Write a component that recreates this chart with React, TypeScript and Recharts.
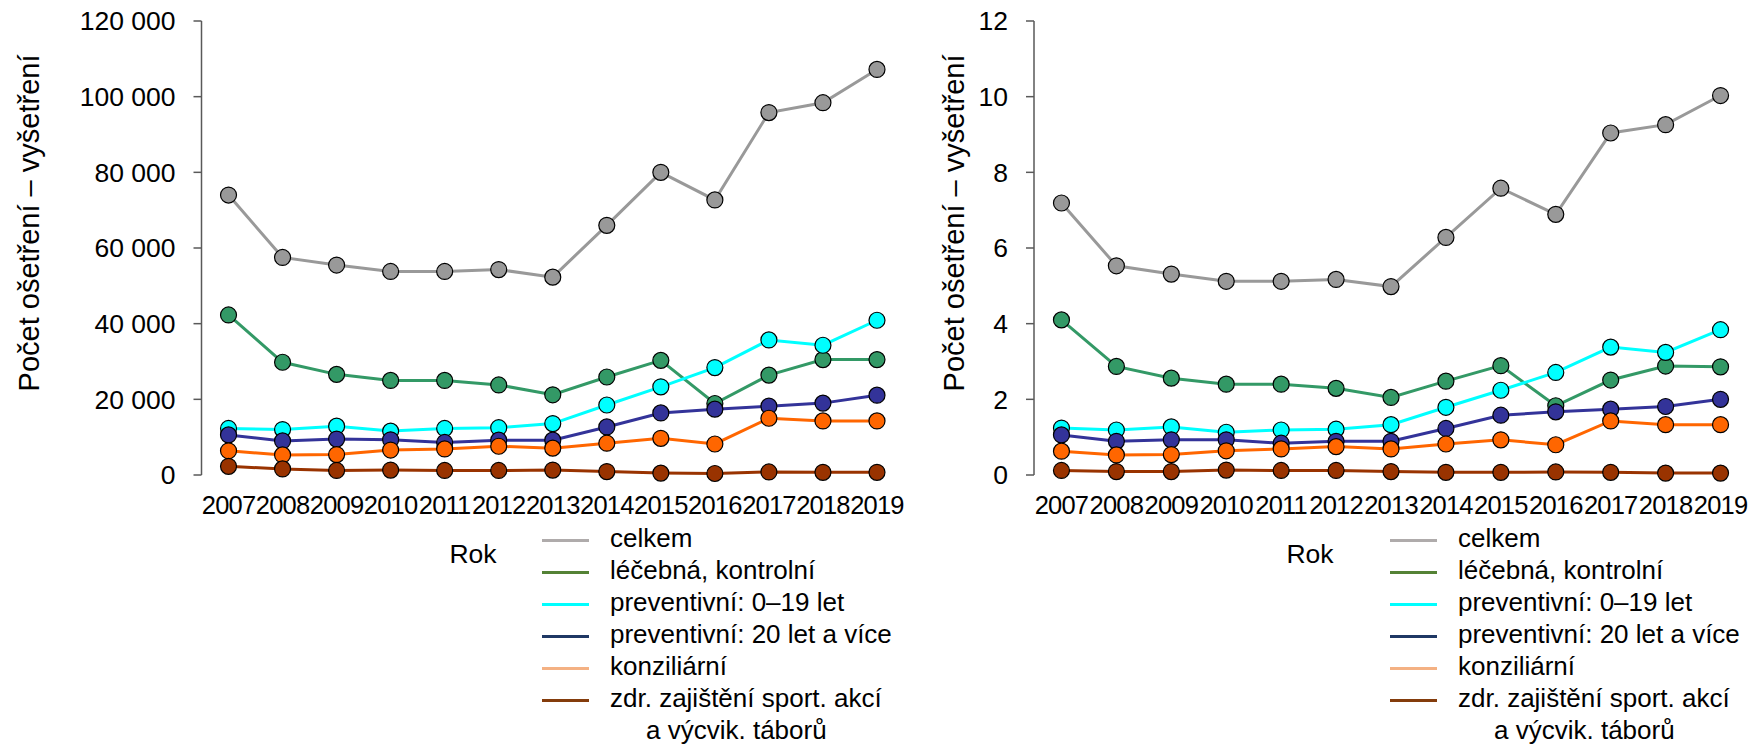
import React from "react";
import { LineChart, Line, XAxis, YAxis } from "recharts";

const years = [2007, 2008, 2009, 2010, 2011, 2012, 2013, 2014, 2015, 2016, 2017, 2018, 2019];
const yearBounds = [2006.5, 2007.5, 2008.5, 2009.5, 2010.5, 2011.5, 2012.5, 2013.5, 2014.5, 2015.5, 2016.5, 2017.5, 2018.5, 2019.5];

const celkemAbs = [74000, 57500, 55500, 53800, 53800, 54300, 52300, 66000, 80000, 72700, 95800, 98400, 107200];
const lecebnaAbs = [42300, 29800, 26600, 25000, 25000, 23800, 21200, 25900, 30300, 18900, 26400, 30500, 30500];
const prev019Abs = [12300, 12000, 12900, 11600, 12300, 12500, 13600, 18500, 23300, 28400, 35700, 34300, 40900];
const prev20Abs = [10600, 9000, 9500, 9300, 8600, 9200, 9200, 12700, 16400, 17400, 18200, 19000, 21100];
const konzAbs = [6400, 5300, 5400, 6600, 6900, 7600, 7100, 8400, 9700, 8200, 15000, 14300, 14300];
const sportAbs = [2300, 1600, 1200, 1300, 1200, 1200, 1300, 900, 500, 400, 800, 700, 700];

const celkemRel = [7.19, 5.53, 5.31, 5.12, 5.12, 5.17, 4.98, 6.28, 7.58, 6.89, 9.04, 9.26, 10.03];
const lecebnaRel = [4.1, 2.87, 2.56, 2.4, 2.4, 2.29, 2.05, 2.48, 2.89, 1.83, 2.51, 2.88, 2.86];
const prev019Rel = [1.24, 1.19, 1.27, 1.13, 1.19, 1.21, 1.33, 1.79, 2.24, 2.71, 3.38, 3.24, 3.84];
const prev20Rel = [1.06, 0.89, 0.93, 0.93, 0.84, 0.89, 0.89, 1.23, 1.58, 1.67, 1.74, 1.81, 2.0];
const konzRel = [0.63, 0.53, 0.54, 0.64, 0.69, 0.75, 0.69, 0.82, 0.93, 0.8, 1.43, 1.33, 1.33];
const sportRel = [0.12, 0.09, 0.09, 0.13, 0.12, 0.12, 0.09, 0.07, 0.07, 0.08, 0.07, 0.05, 0.05];

const seriesKeys = ["celkem", "lecebna", "prev019", "prev20", "konz", "sport"];
const seriesColors = ["#999999", "#339966", "#00FFFF", "#333399", "#FF6600", "#993300"];
const legendLabels = [
  "celkem",
  "léčebná, kontrolní",
  "preventivní: 0–19 let",
  "preventivní: 20 let a více",
  "konziliární",
  "zdr. zajištění sport. akcí",
];
const legendExtraLine = "a výcvik. táborů";
const legendColors = ["#AFABAB", "#548235", "#00FFFF", "#1F3864", "#F4B183", "#843C0C"];

const absTicks = [0, 20000, 40000, 60000, 80000, 100000, 120000];
const relTicks = [0, 2, 4, 6, 8, 10, 12];

const yTitle = "Počet ošetření – vyšetření";
const xTitle = "Rok";

const FONT = "'Liberation Sans', Arial, sans-serif";
const AXIS = "#595959";

function build(arrs: number[][]) {
  return years.map((y, i) => {
    const row: Record<string, number> = { year: y };
    seriesKeys.forEach((k, j) => (row[k] = arrs[j][i]));
    return row;
  });
}

const absData = build([celkemAbs, lecebnaAbs, prev019Abs, prev20Abs, konzAbs, sportAbs]);
const relData = build([celkemRel, lecebnaRel, prev019Rel, prev20Rel, konzRel, sportRel]);

const fmt = (v: number) => String(v).replace(/\B(?=(\d{3})+(?!\d))/g, " ");

function Chart(props: {
  data: Record<string, number>[];
  ticks: number[];
  max: number;
  width: number;
  yWidth: number;
  right: number;
}) {
  const { data, ticks, max, width, yWidth, right } = props;
  return (
    <LineChart width={width} height={520} data={data} margin={{ top: 21, right, left: 0, bottom: 0 }}>
      <XAxis
        xAxisId="marks"
        type="number"
        dataKey="year"
        domain={[2006.5, 2019.5]}
        ticks={yearBounds}
        height={0}
        tickSize={8}
        tick={() => <g />}
        axisLine={{ stroke: AXIS, strokeWidth: 1.5 }}
        tickLine={{ stroke: AXIS, strokeWidth: 1.5 }}
        interval={0}
      />
      <XAxis
        xAxisId="lab"
        type="number"
        dataKey="year"
        domain={[2006.5, 2019.5]}
        ticks={years}
        height={45}
        tickSize={8}
        tickMargin={13}
        axisLine={false}
        tickLine={false}
        interval={0}
        tick={{ fill: "#000", fontSize: 25.5, fontFamily: FONT, letterSpacing: -0.8 }}
      />
      <YAxis
        type="number"
        domain={[0, max]}
        ticks={ticks}
        width={yWidth}
        tickSize={8}
        tickMargin={18}
        interval={0}
        tickFormatter={fmt}
        axisLine={{ stroke: AXIS, strokeWidth: 1.5 }}
        tickLine={{ stroke: AXIS, strokeWidth: 1.5 }}
        tick={{ fill: "#000", fontSize: 26.5, fontFamily: FONT }}
      />
      {seriesKeys.map((k, i) => (
        <Line
          key={k}
          xAxisId="lab"
          type="linear"
          dataKey={k}
          stroke={seriesColors[i]}
          strokeWidth={3}
          dot={{ r: 8, fill: seriesColors[i], stroke: "#000", strokeWidth: 1.2 }}
          isAnimationActive={false}
        />
      ))}
    </LineChart>
  );
}

function Legend(props: { lineX: number; textX: number }) {
  const { lineX, textX } = props;
  const top0 = 522;
  const rowH = 32;
  return (
    <>
      {legendLabels.map((lab, i) => (
        <React.Fragment key={lab}>
          <div
            style={{
              position: "absolute",
              left: lineX,
              top: top0 + i * rowH + 16.5,
              width: 47,
              height: 3,
              background: legendColors[i],
            }}
          />
          <div
            style={{
              position: "absolute",
              left: textX,
              top: top0 + i * rowH,
              height: rowH,
              lineHeight: rowH + "px",
              fontSize: 26,
              fontFamily: FONT,
              color: "#000",
              whiteSpace: "nowrap",
            }}
          >
            {lab}
          </div>
        </React.Fragment>
      ))}
      <div
        style={{
          position: "absolute",
          left: textX + 36,
          top: top0 + 6 * rowH,
          height: rowH,
          lineHeight: rowH + "px",
          fontSize: 26,
          fontFamily: FONT,
          color: "#000",
          whiteSpace: "nowrap",
        }}
      >
        {legendExtraLine}
      </div>
    </>
  );
}

function YTitle(props: { cx: number; cy: number }) {
  return (
    <div
      style={{
        position: "absolute",
        left: props.cx,
        top: props.cy,
        transform: "translate(-50%, -50%) rotate(-90deg)",
        fontSize: 29,
        fontFamily: FONT,
        color: "#000",
        whiteSpace: "nowrap",
        lineHeight: "34px",
      }}
    >
      {yTitle}
    </div>
  );
}

function XTitle(props: { cx: number }) {
  return (
    <div
      style={{
        position: "absolute",
        left: props.cx,
        top: 538,
        transform: "translateX(-50%)",
        fontSize: 26.5,
        fontFamily: FONT,
        color: "#000",
        lineHeight: "32px",
        whiteSpace: "nowrap",
      }}
    >
      {xTitle}
    </div>
  );
}

export default function App() {
  return (
    <div style={{ position: "absolute", left: 0, top: 0, width: 1758, height: 748, background: "#fff", overflow: "hidden" }}>
      <div style={{ position: "absolute", left: 0, top: 0 }}>
        <Chart data={absData} ticks={absTicks} max={120000} width={920} yWidth={201.5} right={16} />
      </div>
      <div style={{ position: "absolute", left: 920, top: 0 }}>
        <Chart data={relData} ticks={relTicks} max={12} width={838} yWidth={114} right={10} />
      </div>
      <YTitle cx={29} cy={223} />
      <YTitle cx={954} cy={223} />
      <XTitle cx={473} />
      <XTitle cx={1310} />
      <Legend lineX={542} textX={610} />
      <Legend lineX={1390} textX={1458} />
    </div>
  );
}
